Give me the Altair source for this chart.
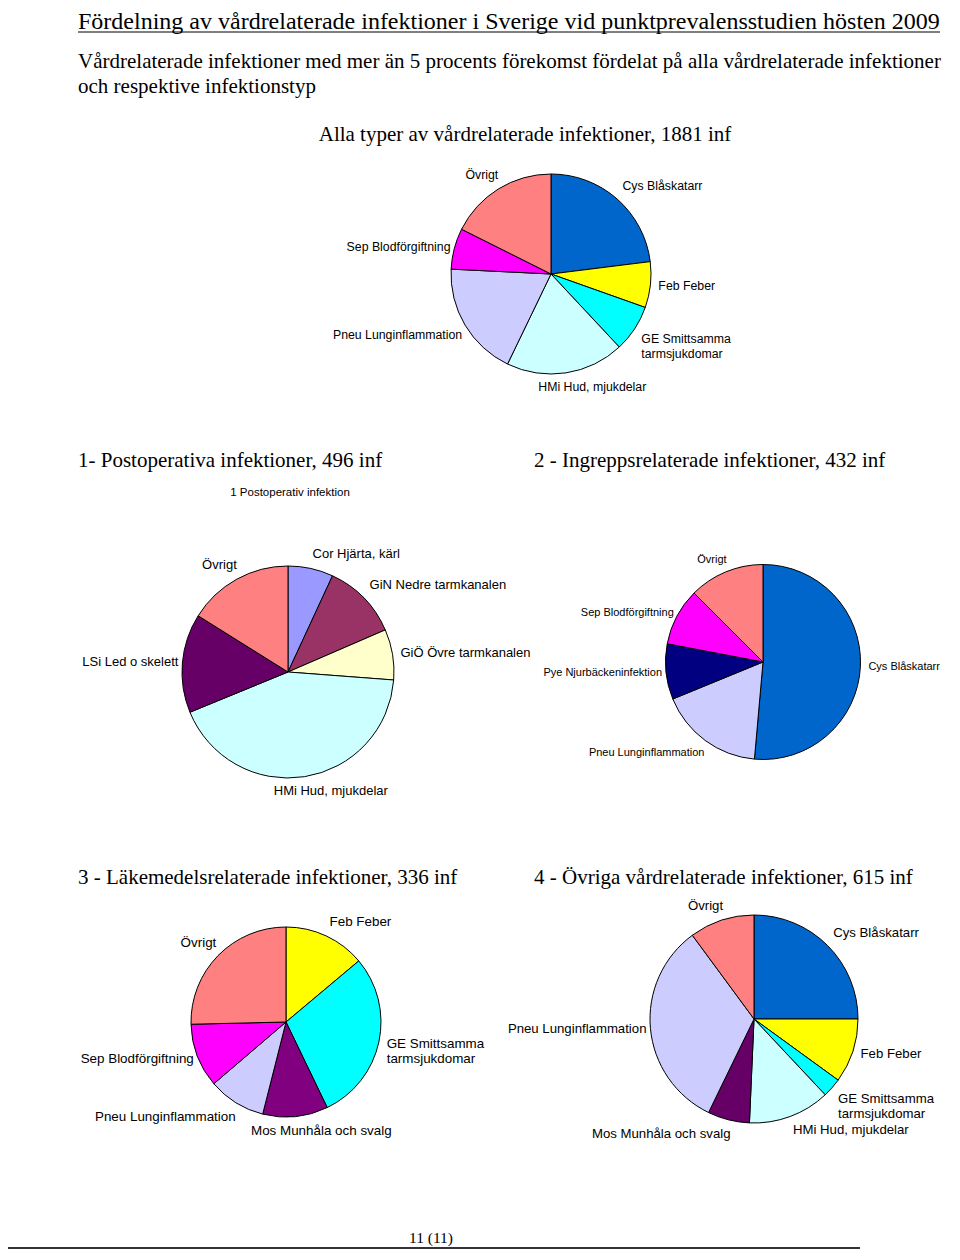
import math
import altair as alt
import pandas as pd

# ---------------- data ----------------
TITLE = "Fördelning av vårdrelaterade infektioner i Sverige vid punktprevalensstudien hösten 2009"
SUB1 = "Vårdrelaterade infektioner med mer än  5 procents förekomst fördelat på alla vårdrelaterade  infektioner"
SUB2 = "och respektive infektionstyp"

all_title = "Alla typer av vårdrelaterade infektioner, 1881 inf"
all_cats = ["Cys Blåskatarr", "Feb Feber", "GE Smittsamma\ntarmsjukdomar", "HMi Hud, mjukdelar",
            "Pneu Lunginflammation", "Sep Blodförgiftning", "Övrigt"]
all_vals = [23.0, 7.4, 7.6, 19.1, 18.6, 6.6, 17.6]

p1_title = "1- Postoperativa infektioner, 496 inf"
p1_sub = "1 Postoperativ infektion"
p1_cats = ["Cor Hjärta, kärl", "GiN Nedre tarmkanalen", "GiÖ Övre tarmkanalen", "HMi Hud, mjukdelar",
           "LSi Led o skelett", "Övrigt"]
p1_vals = [6.9, 11.6, 7.7, 42.6, 15.1, 16.1]

p2_title = "2 - Ingreppsrelaterade infektioner, 432 inf"
p2_cats = ["Cys Blåskatarr", "Pneu Lunginflammation", "Pye Njurbäckeninfektion", "Sep Blodförgiftning", "Övrigt"]
p2_vals = [51.4, 17.4, 9.2, 9.5, 12.5]

p3_title = "3 - Läkemedelsrelaterade infektioner, 336 inf"
p3_cats = ["Feb Feber", "GE Smittsamma\ntarmsjukdomar", "Mos Munhåla och svalg", "Pneu Lunginflammation",
           "Sep Blodförgiftning", "Övrigt"]
p3_vals = [13.9, 29.0, 11.1, 9.8, 10.9, 25.4]

p4_title = "4 - Övriga vårdrelaterade infektioner, 615 inf"
p4_cats = ["Cys Blåskatarr", "Feb Feber", "GE Smittsamma\ntarmsjukdomar", "HMi Hud, mjukdelar",
           "Mos Munhåla och svalg", "Pneu Lunginflammation", "Övrigt"]
p4_vals = [25.0, 10.0, 3.0, 12.7, 6.5, 32.7, 10.1]

FOOTER = "11 (11)"

# ---------------- styles ----------------
all_cols = ["#0066CC", "#FFFF00", "#00FFFF", "#CCFFFF", "#CCCCFF", "#FF00FF", "#FF8080"]
p1_cols = ["#9999FF", "#993366", "#FFFFCC", "#CCFFFF", "#660066", "#FF8080"]
p2_cols = ["#0066CC", "#CCCCFF", "#000080", "#FF00FF", "#FF8080"]
p3_cols = ["#FFFF00", "#00FFFF", "#800080", "#CCCCFF", "#FF00FF", "#FF8080"]
p4_cols = ["#0066CC", "#FFFF00", "#00FFFF", "#CCFFFF", "#660066", "#CCCCFF", "#FF8080"]

SERIF = "Liberation Serif"
SANS = "Liberation Sans"
TH = alt.Scale(domain=[0, 360], range=[0, 2 * math.pi])
OFF = 8  # page margin


def P(v):
    return v - OFF


def pie(cats, vals, colors, cx, cy, r, fs, gap=8):
    total = sum(vals)
    rows = []
    acc = 0.0
    for c, v, col in zip(cats, vals, colors):
        s = acc / total * 360
        acc += v
        e = acc / total * 360
        m = (s + e) / 2
        sn, cs = math.sin(math.radians(m)), math.cos(math.radians(m))
        align = "left" if sn > 0.2 else ("right" if sn < -0.2 else "center")
        base = "bottom" if cs > 0.5 else ("top" if cs < -0.5 else "middle")
        rows.append(dict(cat=c, start=s, end=e, mid=m, color=col, grp=align + "-" + base))
    df = pd.DataFrame(rows)
    bc = alt.Chart(df)
    layers = [bc.mark_arc(outerRadius=r, stroke="black", strokeWidth=1).encode(
        theta=alt.Theta("start:Q", scale=TH, stack=None),
        theta2="end:Q",
        color=alt.Color("color:N", scale=None),
        x=alt.value(P(cx)), y=alt.value(P(cy)))]
    for g in df["grp"].unique():
        a, b = g.split("-")
        dx = {"center": 25, "right": 4, "left": 0}[a]
        layers.append(bc.transform_filter(alt.datum.grp == g).mark_text(
            radius=r + gap, align=a, baseline=b, font=SANS, fontSize=fs, lineBreak="\n",
            dx=dx, color="black").encode(
            theta=alt.Theta("mid:Q", scale=TH, stack=None),
            text="cat:N",
            x=alt.value(P(cx)), y=alt.value(P(cy))))
    return layers


def label(txt, x, y, size, align="left", font=SERIF, baseline="alphabetic"):
    return alt.Chart(pd.DataFrame({"t": [txt]})).mark_text(
        align=align, baseline=baseline, font=font, fontSize=size, color="black").encode(
        text="t:N", x=alt.value(P(x)), y=alt.value(P(y)))


def hline(x1, x2, y, w=1, color="black"):
    return alt.Chart(pd.DataFrame({"a": [0]})).mark_rule(color=color, strokeWidth=w).encode(
        x=alt.value(P(x1)), x2=alt.value(P(x2)), y=alt.value(P(y)))


layers = []
layers.append(label(TITLE, 78, 29, 24.0))
layers.append(hline(78, 940, 32, 1))
layers.append(label(SUB1, 78, 68, 21))
layers.append(label(SUB2, 78, 93, 21))
layers.append(label(all_title, 525, 141, 21, align="center"))
layers += pie(all_cats, all_vals, all_cols, 551, 274, 100, 12.3)

layers.append(label(p1_title, 78, 467, 21))
layers.append(label(p1_sub, 290, 496, 11.5, align="center", font=SANS))
layers += pie(p1_cats, p1_vals, p1_cols, 288, 672, 106, 13)

layers.append(label(p2_title, 534, 467, 21))
layers += pie(p2_cats, p2_vals, p2_cols, 763, 662, 97.5, 11)

layers.append(label(p3_title, 78, 884, 21))
layers += pie(p3_cats, p3_vals, p3_cols, 286, 1022, 95, 13.4)

layers.append(label(p4_title, 534, 884, 21))
layers += pie(p4_cats, p4_vals, p4_cols, 754, 1019, 104, 13.2, gap=8)

layers.append(label(FOOTER, 431, 1243, 15.5, align="center"))
layers.append(hline(8, 860, 1248, 2, "#333333"))

chart = alt.layer(*layers).properties(
    width=944, height=1244, autosize=alt.AutoSizeParams(type="none"), padding=0,
    background="white"
).configure_view(stroke=None)

chart.save("out.html", embed_options={"renderer": "svg", "actions": False})
